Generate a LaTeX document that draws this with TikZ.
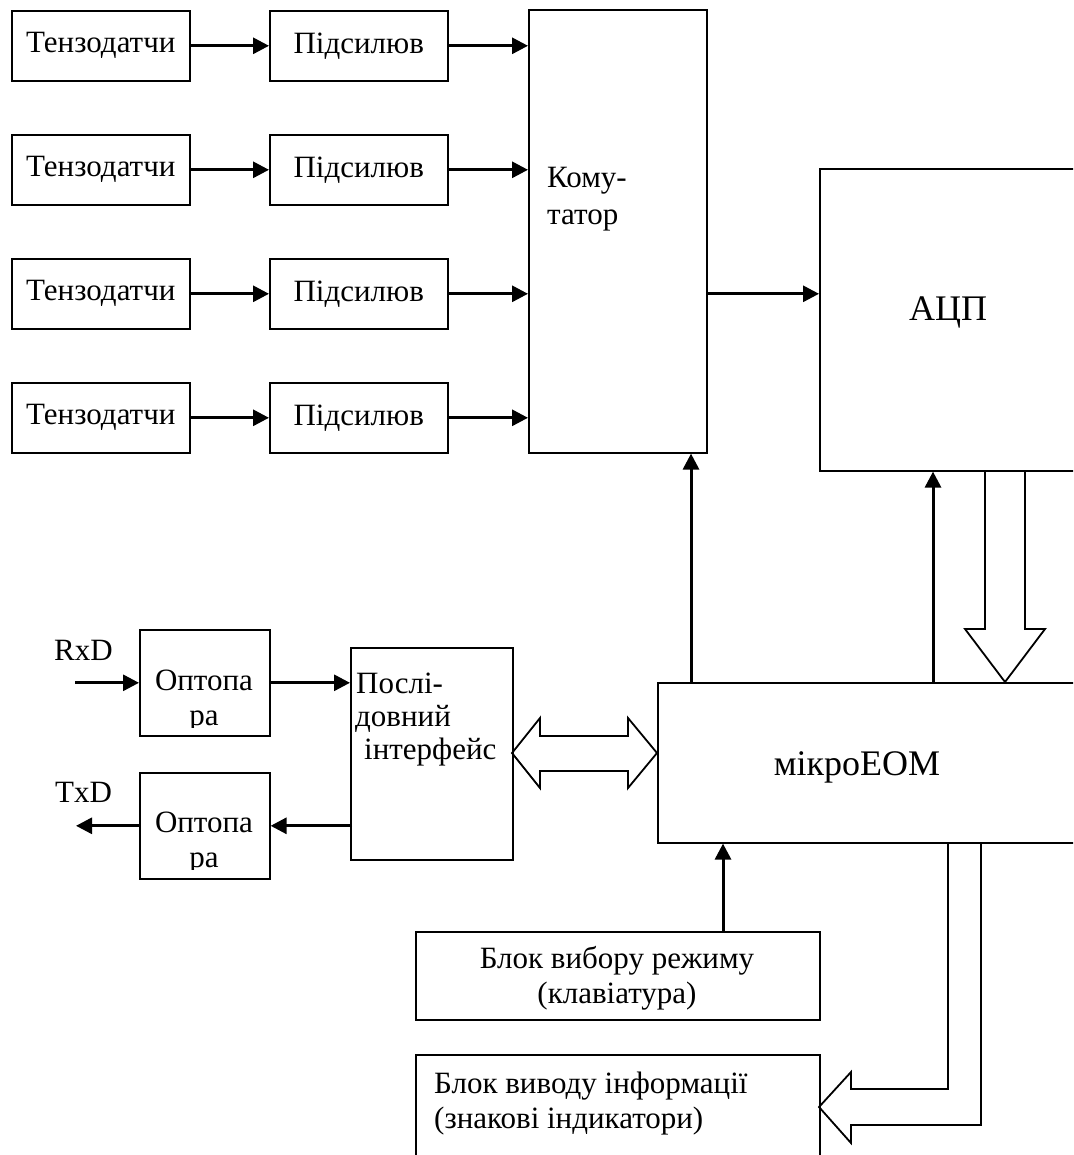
\documentclass[tikz,border=0pt]{standalone}
\usepackage{fontspec}
\setmainfont{Liberation Serif}
\usetikzlibrary{arrows.meta,calc}
\begin{document}
\begin{tikzpicture}[x=1pt,y=-1pt,
  blk/.style={draw,line width=1.6pt,rectangle,inner sep=0pt,anchor=north west,font=\fontsize{31}{36}\selectfont},
  sig/.style={line width=3pt,-{Triangle[length=16pt,width=16pt]}},
  hollow/.style={draw,line width=1.8pt,line join=miter},
  txt/.style={anchor=base west,inner sep=0pt,font=\fontsize{31}{36}\selectfont},
  ctxt/.style={anchor=base,inner sep=0pt,font=\fontsize{31}{36}\selectfont},
  big/.style={anchor=base,inner sep=0pt,font=\fontsize{36}{40}\selectfont},
]
\clip (0,0) rectangle (1073,1155);
\fill[white] (0,0) rectangle (1073,1155);

% commutator
\node[blk,minimum width=178pt,minimum height=443pt] (K) at (528,9) {};
\node[txt] (Kt1) at (547,188) {Кому-};
\node[txt] (Kt2) at (547,225) {татор};

% sensor rows
\foreach \i/\y in {1/10,2/134,3/258,4/382}{
  \node[blk,minimum width=178pt,minimum height=70pt] (T\i) at (11,\y) {Тензодатчи};
  \node[blk,minimum width=178pt,minimum height=70pt] (P\i) at (269,\y) {Підсилюв};
  \draw[sig] (T\i) -- (P\i);
  \draw[sig] (P\i.east) -- (P\i.east -| K.west);
}

% ADC
\node[blk,minimum width=262pt,minimum height=302pt] (A) at (819,168) {};
\node[big] (At) at (948,320) {АЦП};
\draw[sig] (K.east |- P3.east) -- (A.west |- P3.east);

% micro computer
\node[blk,minimum width=425pt,minimum height=160pt] (M) at (657,682) {};
\node[big] (Mt) at (857,775) {мікроЕОМ};
\coordinate (m1) at (691,682);
\coordinate (m2) at (933,682);
\draw[sig] (m1) -- (m1 |- K.south);
\draw[sig] (m2) -- (m2 |- A.south);
% hollow arrow ADC -> micro
\draw[hollow] (985,470) -- (985,629) -- (965,629) -- (1005,682) -- (1045,629) -- (1025,629) -- (1025,470);

% serial interface
\node[blk,minimum width=162pt,minimum height=212pt] (S) at (350,647) {};
\node[txt] (St1) at (356,693) {Послі-};
\node[txt] (St2) at (355,726) {довний};
\node[txt] (St3) at (364,759) {інтерфейс};

% optocouplers
\node[blk,minimum width=130pt,minimum height=106pt] (O1) at (139,629) {};
\node[blk,minimum width=130pt,minimum height=106pt] (O2) at (139,772) {};
\begin{scope}
  \clip (139,629) rectangle (269,727);
  \node[ctxt] (O1t1) at (204,690) {Оптопа};
  \node[ctxt] (O1t2) at (204,725) {ра};
\end{scope}
\begin{scope}
  \clip (139,772) rectangle (269,869);
  \node[ctxt] (O2t1) at (204,832) {Оптопа};
  \node[ctxt] (O2t2) at (204,867) {ра};
\end{scope}

\node[txt] (rxd) at (54,660) {RxD};
\node[txt] (txd) at (55,802) {TxD};
\coordinate (rx) at (75,682);
\coordinate (tx) at (76,825);
\draw[sig] (rx |- O1.west) -- (O1.west);
\draw[sig] (O1.east) -- (O1.east -| S.west);
\draw[sig] ($(O2.east -| S.west)+(2,0)$) -- (O2.east);
\draw[sig] (O2.west) -- (O2.west -| tx);

% double hollow arrow serial <-> micro
\draw[hollow] (512,753) -- (540,718) -- (540,736) -- (628,736) -- (628,718) -- (657,753)
  -- (628,788) -- (628,771) -- (540,771) -- (540,788) -- cycle;

% keyboard
\node[blk,minimum width=404pt,minimum height=88pt] (KB) at (415,931) {};
\node[ctxt] (KBt1) at (617,968) {Блок вибору режиму};
\node[ctxt] (KBt2) at (617,1003) {(клавіатура)};
\draw[sig] (KB.north -| 723,0) -- (M.south -| 723,0);

% output block
\node[blk,minimum width=404pt,minimum height=140pt] (D) at (415,1054) {};
\node[txt] (Dt1) at (434,1093) {Блок виводу інформації};
\node[txt] (Dt2) at (434,1128) {(знакові індикатори)};
\draw[hollow] (948,842) -- (948,1089) -- (851,1089) -- (851,1072) -- (819,1107) -- (851,1143)
  -- (851,1125) -- (981,1125) -- (981,842);
\end{tikzpicture}
\end{document}
